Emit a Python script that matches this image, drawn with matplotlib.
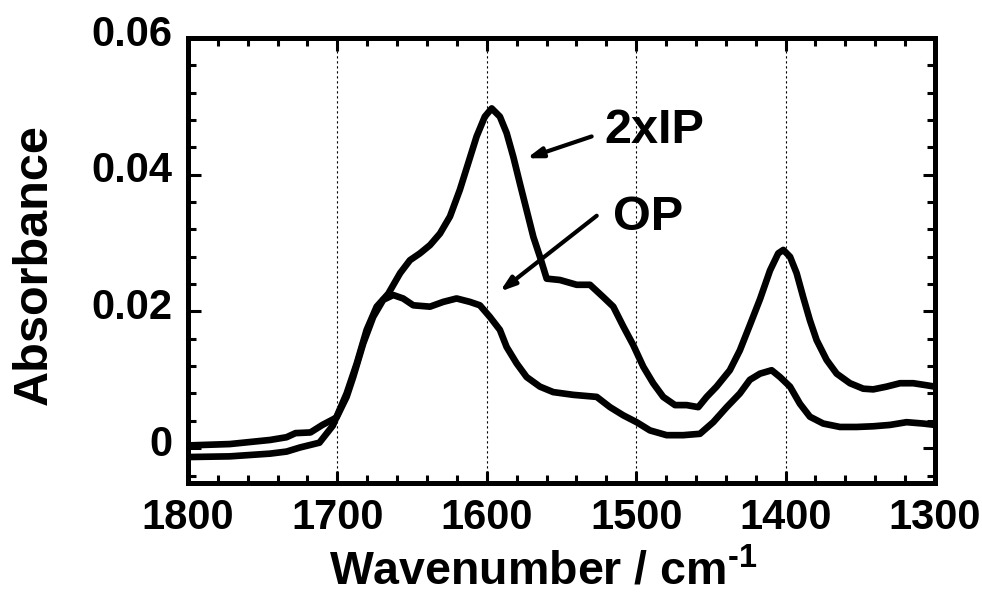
import matplotlib
matplotlib.use("Agg")
import matplotlib.pyplot as plt
import matplotlib.transforms as mtransforms
from matplotlib.ticker import MultipleLocator

# ---- data (wavenumber in cm-1, absorbance) ----
ip_wn = [1800, 1772, 1745, 1734, 1725, 1712, 1703, 1700.5, 1693.8, 1687, 1680.4,
         1673.7, 1665.9, 1658, 1651.4, 1644.7, 1638, 1631.3, 1624.6, 1618, 1612.4,
         1606.8, 1601.3, 1596.7, 1591.2, 1586.7, 1582.2, 1577.8, 1573.3, 1568.8,
         1564.4, 1559.9, 1551, 1539.8, 1530.9, 1522, 1515.3, 1508.6, 1502, 1495.2,
         1488.6, 1481.9, 1474, 1466.2, 1458.4, 1452.8, 1446.2, 1437.3, 1430.6,
         1423.9, 1417.1, 1410.4, 1404.9, 1401.5, 1397, 1392.6, 1388.2, 1383.7,
         1379.2, 1372.5, 1365.8, 1356.9, 1348, 1341.3, 1332.4, 1323.4, 1314.5,
         1305.6, 1300]
ip_abs = [-0.0013, -0.0012, -0.0008, -0.0005, 0.0001, 0.0008, 0.0033, 0.0046,
          0.0080, 0.0124, 0.0173, 0.0207, 0.0226, 0.0256, 0.0275, 0.0285, 0.0297,
          0.0314, 0.0339, 0.0378, 0.0417, 0.0456, 0.0485, 0.0497, 0.0485, 0.0461,
          0.0426, 0.0387, 0.0348, 0.0309, 0.0280, 0.0248, 0.0246, 0.0239, 0.0239,
          0.0221, 0.0207, 0.0178, 0.0151, 0.0119, 0.0095, 0.0075, 0.0063, 0.0063,
          0.0060, 0.0075, 0.0090, 0.0114, 0.0143, 0.0180, 0.0218, 0.0260, 0.0285,
          0.0290, 0.0280, 0.0256, 0.0221, 0.0187, 0.0158, 0.0129, 0.0109, 0.0095,
          0.0087, 0.0086, 0.0090, 0.0095, 0.0095, 0.0092, 0.0090]

op_wn = [1800, 1772, 1745, 1734, 1728, 1718, 1710, 1703, 1700.5, 1693.8, 1689.4,
         1682.7, 1676, 1669.3, 1662.6, 1656, 1649.2, 1638, 1629.1, 1620.2, 1611.3,
         1604.6, 1597.9, 1591.2, 1586.7, 1580, 1573.3, 1564.4, 1555.5, 1542.1,
         1526.4, 1517.5, 1508.6, 1499.7, 1490.8, 1479.6, 1468.5, 1457.3, 1448.4,
         1439.4, 1430.6, 1423.9, 1417.1, 1409.3, 1403.7, 1397, 1390.4, 1383.7,
         1374.8, 1363.6, 1352.4, 1341.3, 1330.1, 1319, 1307.8, 1300]
op_abs = [0.0004, 0.0006, 0.0012, 0.0016, 0.0022, 0.0023, 0.0034, 0.0042, 0.0045,
          0.0075, 0.0104, 0.0153, 0.0192, 0.0217, 0.0224, 0.0219, 0.0209, 0.0207,
          0.0214, 0.0219, 0.0214, 0.0209, 0.0192, 0.0173, 0.0148, 0.0124, 0.0104,
          0.0090, 0.0082, 0.0078, 0.0075, 0.0060, 0.0048, 0.0038, 0.0026, 0.0019,
          0.0019, 0.0021, 0.0038, 0.0060, 0.0080, 0.0100, 0.0109, 0.0114, 0.0104,
          0.0090, 0.0065, 0.0046, 0.0036, 0.0031, 0.0031, 0.0032, 0.0034, 0.0038,
          0.0036, 0.0034]

x_ticks = [1800, 1700, 1600, 1500, 1400, 1300]
y_ticks = [0, 0.02, 0.04, 0.06]
y_tick_labels = ["0", "0.02", "0.04", "0.06"]

plt.rcParams['font.family'] = ['Liberation Sans', 'DejaVu Sans']
plt.rcParams['font.weight'] = 'bold'
plt.rcParams['mathtext.fontset'] = 'custom'
plt.rcParams['mathtext.rm'] = 'Liberation Sans:bold'
plt.rcParams['mathtext.bf'] = 'Liberation Sans:bold'
plt.rcParams['mathtext.default'] = 'bf'

fig = plt.figure(figsize=(9.82, 5.95), dpi=100)
ax = fig.add_axes([0.1914, 0.1882, 0.7607, 0.7479])

# dotted guide lines at the major wavenumbers
for xv in x_ticks[1:-1]:
    ax.axvline(xv, color='black', linewidth=0.8, linestyle=(0, (2, 2.5)), zorder=1)

ax.plot(ip_wn, ip_abs, color='black', linewidth=4.8, solid_joinstyle='round', zorder=3)
ax.plot(op_wn, op_abs, color='black', linewidth=4.8, solid_joinstyle='round', zorder=3)

ax.set_xlim(1800, 1300)
ax.set_ylim(-0.0051, 0.06)

ax.set_xticks(x_ticks)
ax.set_xticklabels([str(v) for v in x_ticks])
ax.set_yticks(y_ticks)
ax.set_yticklabels(y_tick_labels)
ax.xaxis.set_minor_locator(MultipleLocator(20))
ax.yaxis.set_minor_locator(MultipleLocator(0.004))

ax.tick_params(which='both', direction='in', top=True, right=True, width=2.2)
ax.tick_params(which='major', length=9, labelsize=30, pad=11)
ax.tick_params(which='minor', length=6)
for s in ax.spines.values():
    s.set_linewidth(3.6)

# y tick labels sit a little above their ticks in the reference
offset = mtransforms.ScaledTranslation(0, 8 / 100, fig.dpi_scale_trans)
for lab in ax.get_yticklabels():
    lab.set_transform(lab.get_transform() + offset)

ax.set_xlabel(r'Wavenumber / cm$^{\text{-1}}$', fontsize=33.5, fontweight='bold')
ax.xaxis.set_label_coords(0.476, -0.150)
ax.set_ylabel('Absorbance', fontsize=35, fontweight='bold')
ax.yaxis.set_label_coords(-0.175, 0.49)

# annotations
ax.text(1521, 0.0446, '2xIP', fontsize=35, fontweight='bold', ha='left', va='baseline')
ax.text(1515.5, 0.0319, 'OP', fontsize=35, fontweight='bold', ha='left', va='baseline')
arrow = dict(arrowstyle='-|>,head_length=0.9,head_width=0.3', color='black', lw=3,
             shrinkA=0, shrinkB=0)
ax.annotate('', xy=(1573.3, 0.0424), xytext=(1529.8, 0.0456), arrowprops=arrow)
ax.annotate('', xy=(1591.2, 0.0229), xytext=(1526.4, 0.0340), arrowprops=arrow)

fig.savefig('out.png', dpi=100)
